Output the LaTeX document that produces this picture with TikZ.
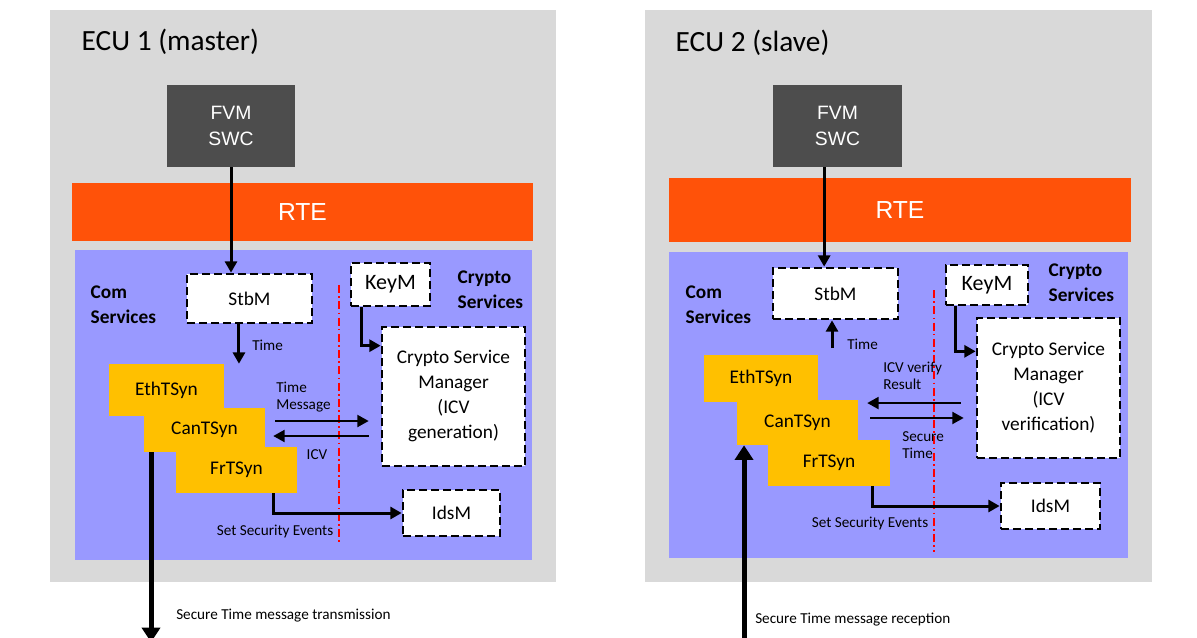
\documentclass[tikz,border=0pt]{standalone}
\usepackage{fontspec}
\setmainfont{Carlito}
\newfontfamily\arialfont{Liberation Sans}
\usepackage{xcolor}
\usepackage{tikz}
\usetikzlibrary{positioning,arrows.meta}

\definecolor{ecugray}{HTML}{D9D9D9}
\definecolor{swcgray}{HTML}{4D4D4D}
\definecolor{rteorange}{HTML}{FF5209}
\definecolor{bswblue}{HTML}{9999FF}
\definecolor{tsynyellow}{HTML}{FFC000}

\begin{document}
\begin{tikzpicture}[x=0.75pt,y=-0.75pt,
  >={Triangle[length=8.5pt,width=9pt]},
  swc/.style={fill=swcgray,text=white,inner sep=0pt,align=center,font=\arialfont\fontsize{14.5}{19.5}\selectfont},
  rte/.style={fill=rteorange,text=white,inner sep=0pt,font=\arialfont\fontsize{18.5}{22}\selectfont},
  dbox/.style={draw,fill=white,line width=2pt,dash pattern=on 6pt off 3pt,inner sep=0pt,align=center,font=\fontsize{14.5}{18.75}\selectfont},
  tsyn/.style={fill=tsynyellow,inner sep=0pt,font=\fontsize{14.5}{17}\selectfont},
  grp/.style={align=left,font=\bfseries\fontsize{14.5}{18.75}\selectfont},
  lbl/.style={align=left,inner sep=0pt,font=\fontsize{11.4}{13}\selectfont},
  arr/.style={->,line width=2.25pt},
  marr/.style={->,line width=1.5pt},
  bigarr/.style={-{Triangle[length=11pt,width=13.5pt]},line width=3.75pt},
  border/.style={red,line width=1.5pt,dash pattern=on 6pt off 2.5pt on 1.2pt off 2.5pt}]
  \clip (0,0) rectangle (1197,637);
  \fill[white] (0,0) rectangle (1197,637);

  \fill[ecugray] (50,10) rectangle (556,582);
  \node[anchor=west,font=\fontsize{22}{26}\selectfont] (title1) at (77,42) {ECU 1 (master)};
  \node[swc,minimum width=96pt,minimum height=61.5pt] (fvm1) at (231,126) {FVM\\SWC};
  \node[rte,minimum width=345.75pt,minimum height=43.5pt] (rte1) at (302.5,212) {RTE};
  \fill[bswblue] (75,250) rectangle (532,560);
  \node[grp,anchor=west] (com1) at (86,305) {Com\\Services};
  \node[grp,anchor=west] (crypto1) at (453,290) {Crypto\\Services};
  \node[dbox,minimum width=93.75pt,minimum height=36.75pt] (stbm1) at (249.5,298.5) {StbM};
  \node[tsyn,minimum width=86.25pt,minimum height=39pt] (eth1) at (166.5,390) {EthTSyn};
  \node[tsyn,minimum width=90.75pt,minimum height=33pt] (can1) at (204.5,430) {CanTSyn};
  \node[tsyn,minimum width=90.75pt,minimum height=34.5pt] (fr1) at (236.5,470) {FrTSyn};
  \draw[border] (339,285) -- (339,545);
  \node[dbox,minimum width=59.25pt,minimum height=32.25pt,font=\fontsize{16.5}{20}\selectfont] (keym1) at (390.5,284.5) {KeyM};
  \node[dbox,minimum width=107.25pt,minimum height=104.25pt] (csm1) at (453.5,396.5) {Crypto Service\\Manager\\(ICV\\generation)};
  \node[dbox,minimum width=72.75pt,minimum height=34.5pt] (idsm1) at (451.5,513) {IdsM};
  \draw[arr] (fvm1.south) -- (fvm1.south |- stbm1.north);
  \draw[arr] ([xshift=-7.9pt]stbm1.south) -- ([xshift=-7.9pt]stbm1.south |- eth1.north);
  \node[lbl,anchor=west] (time1) at (252,345) {Time};
  \draw[arr] ([xshift=-22pt]keym1.south) |- ([yshift=-15pt]csm1.north west);
  \draw[marr,shorten <=7.5pt,shorten >=9pt] ([yshift=6.75pt]can1.east) -- ([yshift=6.75pt]can1.east -| csm1.west);
  \draw[marr,shorten <=9pt,shorten >=6pt] ([yshift=-4.5pt]can1.east -| csm1.west) -- ([yshift=-4.5pt]can1.east);
  \node[lbl,anchor=west] (tmsg1) at (276,397) {Time\\Message};
  \node[lbl] (icv1) at (317,455) {ICV};
  \draw[arr] ([xshift=28.1pt]fr1.south) |- (idsm1.west);
  \node[lbl] (sev1) at (275,531) {Set Security Events};
  \draw[bigarr] ([xshift=-40.1pt]can1.south) -- ++(0,190);
  \node[lbl,anchor=west] (tx) at (176,616) {Secure Time message transmission};

  \fill[ecugray] (645,10) rectangle (1152,582);
  \node[anchor=west,font=\fontsize{22}{26}\selectfont] (title2) at (671,43) {ECU 2 (slave)};
  \node[swc,minimum width=96.75pt,minimum height=61.5pt] (fvm2) at (837.5,126) {FVM\\SWC};
  \node[rte,minimum width=346.5pt,minimum height=48pt] (rte2) at (900,210) {RTE};
  \fill[bswblue] (669,252) rectangle (1128,558);
  \node[grp,anchor=west] (com2) at (681,305) {Com\\Services};
  \node[grp,anchor=west] (crypto2) at (1044,283) {Crypto\\Services};
  \node[dbox,minimum width=93.75pt,minimum height=38.25pt] (stbm2) at (835.5,293.5) {StbM};
  \node[tsyn,minimum width=85.5pt,minimum height=35.25pt] (eth2) at (761,378.5) {EthTSyn};
  \node[tsyn,minimum width=90.75pt,minimum height=33.75pt] (can2) at (797.5,422.5) {CanTSyn};
  \node[tsyn,minimum width=91.5pt,minimum height=34.5pt] (fr2) at (829,463) {FrTSyn};
  \draw[border] (934,290) -- (934,552);
  \node[dbox,minimum width=61.5pt,minimum height=30pt,font=\fontsize{16.5}{20}\selectfont] (keym2) at (987,285) {KeyM};
  \node[dbox,minimum width=107.25pt,minimum height=105pt] (csm2) at (1048.5,388) {Crypto Service\\Manager\\(ICV\\verification)};
  \node[dbox,minimum width=74.25pt,minimum height=34.5pt] (idsm2) at (1050.5,506) {IdsM};
  \draw[arr] ([xshift=-10pt]fvm2.south) -- ([xshift=-10pt]fvm2.south |- stbm2.north);
  \draw[arr,shorten <=5pt] ([xshift=-2.6pt]stbm2.south |- eth2.north) -- ([xshift=-2.6pt]stbm2.south);
  \node[lbl,anchor=west] (time2) at (847,344) {Time};
  \draw[arr] ([xshift=-24pt]keym2.south) |- ([yshift=-26pt]csm2.north west);
  \draw[marr,shorten <=11.25pt,shorten >=6.75pt] ([yshift=14.6pt]can2.east -| csm2.west) -- ([yshift=14.6pt]can2.east);
  \draw[marr,shorten <=9pt,shorten >=9pt] ([yshift=3.4pt]can2.east) -- ([yshift=3.4pt]can2.east -| csm2.west);
  \node[lbl,anchor=west] (icvres2) at (883,376) {ICV verify\\Result};
  \node[lbl,anchor=west] (stime2) at (902,445) {Secure\\Time};
  \draw[arr] ([xshift=32.25pt]fr2.south) |- (idsm2.west);
  \node[lbl] (sev2) at (870,523) {Set Security Events};
  \draw[bigarr] ([xshift=-40.1pt]can2.south) ++(0,200) -- ([xshift=-40.1pt]can2.south);
  \node[lbl,anchor=west] (rx) at (755,620) {Secure Time message reception};
\end{tikzpicture}
\end{document}
